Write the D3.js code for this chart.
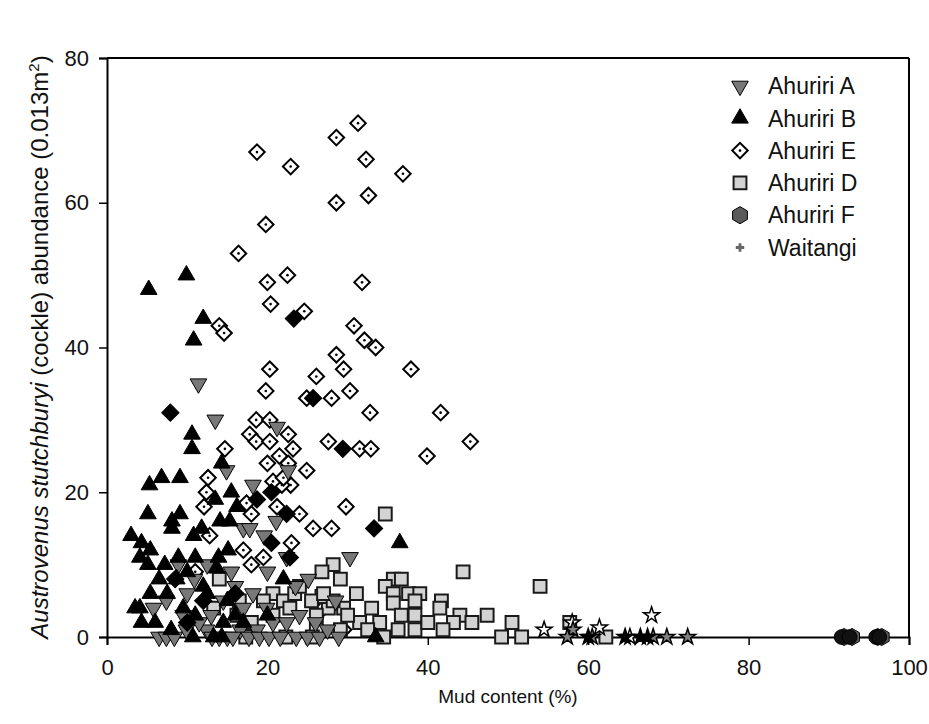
<!DOCTYPE html>
<html>
<head>
<meta charset="utf-8">
<script src="https://cdn.jsdelivr.net/npm/d3@7"></script>
<style>
  html, body { margin: 0; padding: 0; background: #fff; }
  svg { display: block; font-family: Arial, "Liberation Sans", sans-serif; }
</style>
</head>
<body>
<svg id="chart" width="929" height="724"></svg>
<script>
// Mud content (%) vs cockle abundance per core, by site.  [mud, abundance]
const ahuririA = [
  [11.4,35],[13.5,30],[21.2,29],[14.9,23],[18.2,21],[22.6,23],[17.0,15],[17.8,15],[19.6,14],
  [21.1,16],[22.4,11],[30.3,11],[25.1,8],[8.9,10],[10.9,8],[16.0,7],[18.2,6],[19.9,4],
  [20.7,2],[22.4,2],[16.6,1],[12.4,1],[9.9,1],[18.7,1],[5.8,4],[7.4,5],[6.5,0],[7.4,0],
  [8.4,0],[13.1,0],[14.0,0],[15.0,0],[15.7,0],[17.7,0],[19.0,0],[20.2,0],[21.6,0],[23.6,0],
  [25.0,0],[26.5,0],[28.9,0],[9.5,3],[11.5,2],[13.0,3],[14.5,5],[24.0,3],[26.0,2],[27.5,1],
  [15.5,9],[12.5,10],[20.0,9],[23.5,7],[28.5,5],[10.0,6],[17.0,4]
];
const ahuririB = [
  [5.2,48],[9.9,50],[12.0,44],[10.8,41],[10.6,28],[10.6,26],[14.3,24],[5.3,21],[6.8,22],
  [9.1,22],[5.1,17],[9.1,17],[8.1,16],[8.1,15],[3.0,14],[4.3,13],[5.4,12],[4.1,11],[5.1,10],
  [7.2,10],[8.9,11],[11.0,11],[13.9,11],[15.1,12],[15.5,20],[13.5,19],[14.1,16],[15.3,16],
  [16.2,18],[10.8,14],[11.8,15],[5.4,6],[4.1,4],[4.3,2],[8.7,8],[13.7,9.5],[36.5,13],
  [33.5,0],[10.7,0],[13.3,0],[14.3,0],[6.5,8],[7.5,6],[9.5,4],[11.0,3],[12.5,6],[14.5,2],
  [16.0,3],[6.0,2],[8.0,1],[3.5,4],[10.0,9],[12.0,7],[15.0,5],[17.0,2],[20.0,3],[22.0,8]
];
const ahuririE = [
  [31.3,71],[28.6,69],[18.7,67],[22.9,65],[32.3,66],[36.9,64],[32.6,61],[28.6,60],[19.8,57],
  [16.4,53],[20.0,49],[22.5,50],[31.8,49],[20.4,46],[24.6,45],[14.0,43],[14.6,42],[30.8,43],
  [32.1,41],[33.5,40],[28.6,39],[37.9,37],[20.3,37],[26.1,36],[29.5,37],[19.8,34],[30.3,34],
  [24.9,33],[28.0,33],[32.8,31],[41.6,31],[18.6,30],[20.3,30],[17.8,28],[22.6,28],[18.6,27],
  [20.3,27],[27.6,27],[45.3,27],[23.2,26],[31.5,26],[32.9,26],[39.9,25],[14.7,26],[20.0,24],
  [22.6,24],[24.9,23],[12.6,22],[12.4,20],[12.1,18],[18.0,17],[17.4,18.5],[12.8,14],[17.0,12],
  [18.0,10],[19.5,11],[11.0,9],[21.2,18],[23.0,13],[22.9,21],[21.8,21],[20.7,21.5],[29.8,18],
  [25.7,15],[28.0,15],[21.5,25],[22.0,22],[24.0,17],[27.0,4],[29.5,1]
];
const ahuririD = [
  [14.0,8],[16.5,5],[18.0,2],[20.7,6],[19.5,5],[22.0,5],[23.4,6],[22.8,4],[13.3,4],[16.2,3],
  [20.7,3],[34.7,17],[44.4,9],[28.2,10],[26.8,9],[29.1,8],[31.1,6],[35.7,8],[36.7,8],[34.7,7],
  [35.7,6],[37.6,6],[39.0,6],[38.4,5],[41.7,5],[41.5,4],[35.7,4.7],[33.0,4],[36.7,3],[38.4,3],
  [44.0,3],[45.5,2],[43.2,2],[41.9,1],[38.4,1],[36.3,1],[34.0,2],[31.5,2],[29.5,4],[27.6,4],
  [26.1,3],[26.8,5.6],[28.2,5],[26.1,1],[29.1,1],[25.5,5],[54.0,7],[47.4,3],[50.5,2],
  [49.2,0],[51.7,0],[57.7,2],[62.2,0],[22.3,0],[25.6,0],[34.5,0],[17.3,0],[24.0,7],[30.0,3],
  [32.5,1],[40.0,2],[27.0,6]
];
const ahuririC = [
  [7.9,31],[23.3,44],[25.7,33],[29.4,26],[33.3,15],[20.5,20],[22.4,17],[20.5,13],[22.8,11],
  [18.7,19],[8.5,8],[12.0,5],[10.0,2],[16.0,6]
];
const ahuririF = [[91.9,0],[92.9,0],[96.1,0],[96.6,0]];
const ahuririFcores = [[91.6,0],[92.6,0],[95.9,0],[96.3,0]];
const waitangi = [[58.1,1],[60.5,0],[68.1,0],[69.8,0],[72.4,0],[57.4,0]];
const waitangiOpen = [[54.5,1],[67.9,3],[61.4,1.3],[65.2,0],[58.0,2]];
const waitangiDark = [[60.0,0],[64.6,0],[66.5,0],[67.4,0]];

const xTicks = [0, 20, 40, 60, 80, 100];
const yTicks = [0, 20, 40, 60, 80];
const legendLabels = ["Ahuriri A", "Ahuriri B", "Ahuriri E", "Ahuriri D", "Ahuriri F", "Waitangi"];

const svg = d3.select("#chart");
const x = d3.scaleLinear().domain([0, 100]).range([107, 909]);
const y = d3.scaleLinear().domain([0, 80]).range([637, 58]);

// marker shapes
const hexagon = {
  draw(ctx, size) {
    const r = Math.sqrt(size / (1.5 * Math.sqrt(3)));
    for (let i = 0; i < 6; i++) {
      const a = Math.PI / 6 + i * Math.PI / 3;
      const px = r * Math.cos(a), py = r * Math.sin(a);
      if (i === 0) ctx.moveTo(px, py); else ctx.lineTo(px, py);
    }
    ctx.closePath();
  }
};

const styles = {
  A: { type: d3.symbolTriangle, size: 120, rot: 180, fill: "#787878", stroke: "#000", sw: 1 },
  B: { type: d3.symbolTriangle, size: 120, rot: 0, fill: "#000", stroke: "#000", sw: 1 },
  E: { type: d3.symbolSquare, size: 120, rot: 45, fill: "#fff", stroke: "#000", sw: 2, dot: true },
  D: { type: d3.symbolSquare, size: 165, rot: 0, fill: "#d3d3d3", stroke: "#1a1a1a", sw: 2 },
  C: { type: d3.symbolSquare, size: 150, rot: 45, fill: "#000", stroke: "#000", sw: 1 },
  F: { type: hexagon, size: 190, rot: 0, fill: "#5a5a5a", stroke: "#000", sw: 1 },
  Fc: { type: d3.symbolCircle, size: 170, rot: 0, fill: "#111", stroke: "#000", sw: 1 },
  W: { type: d3.symbolStar, size: 80, rot: 0, fill: "#808080", stroke: "#000", sw: 1.5 },
  Wo: { type: d3.symbolStar, size: 80, rot: 0, fill: "#fff", stroke: "#000", sw: 1.5 },
  Wd: { type: d3.symbolStar, size: 80, rot: 0, fill: "#000", stroke: "#000", sw: 1.5 }
};

function drawSeries(data, st, cls) {
  const g = svg.append("g").attr("class", cls);
  const sym = d3.symbol().type(st.type).size(st.size);
  g.selectAll("path").data(data).join("path")
    .attr("d", sym)
    .attr("transform", d => `translate(${x(d[0])},${y(d[1])}) rotate(${st.rot})`)
    .attr("fill", st.fill).attr("stroke", st.stroke).attr("stroke-width", st.sw);
  if (st.dot) {
    g.selectAll("circle").data(data).join("circle")
      .attr("cx", d => x(d[0])).attr("cy", d => y(d[1])).attr("r", 1.3).attr("fill", "#000");
  }
}

// axes
const xAxis = d3.axisBottom(x).tickValues(xTicks).tickSize(8).tickPadding(14).tickFormat(d3.format("d"));
const yAxis = d3.axisLeft(y).tickValues(yTicks).tickSize(8).tickPadding(10).tickFormat(d3.format("d"));

const gx = svg.append("g").attr("transform", "translate(0,637)").call(xAxis);
const gy = svg.append("g").attr("transform", "translate(107,0)").call(yAxis);
[gx, gy].forEach(g => {
  g.select(".domain").attr("stroke", "#000").attr("stroke-width", 2);
  g.selectAll(".tick line").attr("stroke", "#000").attr("stroke-width", 1.5);
  g.selectAll(".tick text").attr("fill", "#111").style("font-size", "22px")
    .style("font-family", "Arial, 'Liberation Sans', sans-serif");
});
// frame top and right
svg.append("line").attr("x1", 107).attr("x2", 909).attr("y1", 58).attr("y2", 58)
  .attr("stroke", "#000").attr("stroke-width", 2);
svg.append("line").attr("x1", 909).attr("x2", 909).attr("y1", 58).attr("y2", 637)
  .attr("stroke", "#000").attr("stroke-width", 2);

// series
drawSeries(ahuririE, styles.E, "ahuriri-e");
drawSeries(ahuririD, styles.D, "ahuriri-d");
drawSeries(ahuririA, styles.A, "ahuriri-a");
drawSeries(ahuririB, styles.B, "ahuriri-b");
drawSeries(ahuririC, styles.C, "ahuriri-c");
drawSeries(waitangiOpen, styles.Wo, "waitangi-open");
drawSeries(waitangi, styles.W, "waitangi");
drawSeries(waitangiDark, styles.Wd, "waitangi-dark");
drawSeries(ahuririF, styles.F, "ahuriri-f");
drawSeries(ahuririFcores, styles.Fc, "ahuriri-f-cores");

// axis titles
svg.append("text").attr("x", 508).attr("y", 703).attr("text-anchor", "middle")
  .style("font-size", "19px").attr("fill", "#111").text("Mud content (%)");

const yt = svg.append("text").attr("transform", "translate(48,347) rotate(-90)")
  .attr("text-anchor", "middle").style("font-size", "24px").attr("fill", "#111");
yt.append("tspan").style("font-style", "italic").text("Austrovenus stutchburyi");
yt.append("tspan").text(" (cockle) abundance (0.013m");
yt.append("tspan").attr("dy", -9).style("font-size", "15px").text("2");
yt.append("tspan").attr("dy", 9).text(")");

// legend
const legendStyles = [styles.A, styles.B, styles.E, styles.D, styles.F,
  { type: d3.symbolCross, size: 40, rot: 0, fill: "#666", stroke: "none", sw: 0 }];
const lg = svg.append("g").attr("class", "legend");
legendLabels.forEach((name, i) => {
  const cy = 86 + i * 32.3;
  const st = legendStyles[i];
  lg.append("path").attr("d", d3.symbol().type(st.type).size(st.size)())
    .attr("transform", `translate(740,${cy}) rotate(${st.rot})`)
    .attr("fill", st.fill).attr("stroke", st.stroke).attr("stroke-width", st.sw);
  if (st.dot) lg.append("circle").attr("cx", 740).attr("cy", cy).attr("r", 1.3).attr("fill", "#000");
  lg.append("text").attr("x", 768).attr("y", cy).attr("dy", "0.36em")
    .style("font-size", "23px").attr("fill", "#111").text(name);
});
</script>
</body>
</html>
